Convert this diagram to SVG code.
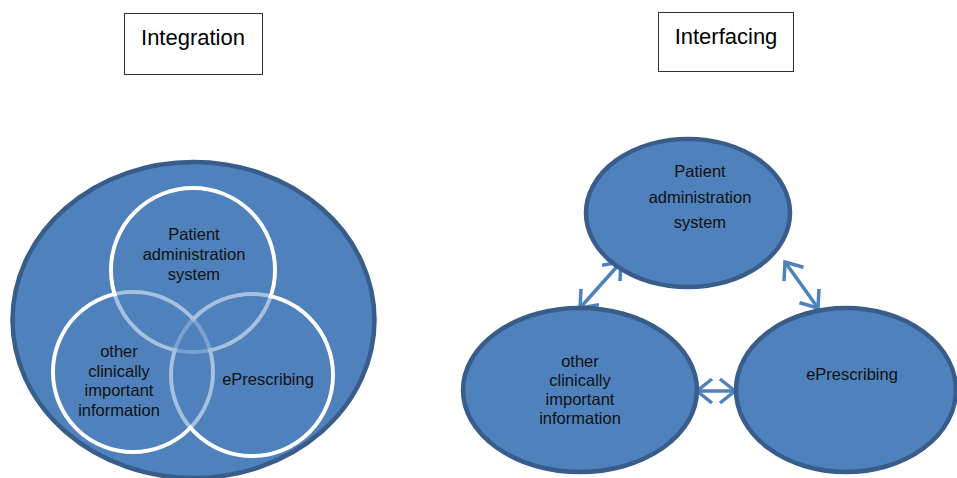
<svg xmlns="http://www.w3.org/2000/svg" width="957" height="478" viewBox="0 0 957 478">
<style>
.title{fill:#fff;stroke:#333;stroke-width:1}
.tt{font-family:"Liberation Sans",Arial,sans-serif;font-size:22px;fill:#000;text-anchor:middle}
.lbl{font-family:"Liberation Sans",Arial,sans-serif;font-size:16.5px;fill:#111;text-anchor:middle}
.blob{fill:#4f81bd;stroke:#385d8a;stroke-width:4.5}
.ring{fill:none;stroke:#fff;stroke-width:4}
.shade{fill:#4f81bd;fill-opacity:0.5;stroke:none}
.conn{stroke:#4f81bd;stroke-width:3.5;fill:none}
</style>
<defs>
<marker id="chev" viewBox="0 0 20 28" refX="17" refY="14" markerWidth="20" markerHeight="28" markerUnits="userSpaceOnUse" orient="auto-start-reverse">
<path d="M2,2 L17,14 L2,26" fill="none" stroke="#4f81bd" stroke-width="3.5"/>
</marker>
</defs>
<rect width="957" height="478" fill="#fff"/>

<g id="title-integration">
<rect class="title" x="124.5" y="13.5" width="138" height="61"/>
<text class="tt" x="193" y="45">Integration</text>
</g>
<g id="title-interfacing">
<rect class="title" x="658.5" y="12.5" width="135" height="59"/>
<text class="tt" x="726" y="44">Interfacing</text>
</g>

<g id="integration-container">
<ellipse class="blob" cx="193.5" cy="320" rx="181" ry="158"/>
</g>
<g id="venn-pas">
<circle class="ring" cx="193" cy="270" r="82"/>
</g>
<g id="venn-other">
<circle class="ring" cx="133" cy="372" r="80"/>
</g>
<g id="venn-eprescribing">
<circle class="ring" cx="252" cy="375" r="81"/>
</g>
<g id="venn-shading">
<circle class="shade" cx="193" cy="270" r="80"/>
<circle class="shade" cx="133" cy="372" r="78"/>
<circle class="shade" cx="252" cy="375" r="79"/>
</g>
<g id="venn-labels">
<text class="lbl" x="194" y="240">Patient</text>
<text class="lbl" x="194" y="260">administration</text>
<text class="lbl" x="194" y="280">system</text>
<text class="lbl" x="119" y="357">other</text>
<text class="lbl" x="119" y="376.5">clinically</text>
<text class="lbl" x="119" y="396">important</text>
<text class="lbl" x="119" y="415.5">information</text>
<text class="lbl" x="268" y="385">ePrescribing</text>
</g>

<g id="connectors">
<line class="conn" x1="621" y1="262" x2="580" y2="308" marker-start="url(#chev)" marker-end="url(#chev)"/>
<line class="conn" x1="785" y1="262" x2="818" y2="308" marker-start="url(#chev)" marker-end="url(#chev)"/>
<line class="conn" x1="697" y1="391" x2="735" y2="391" marker-start="url(#chev)" marker-end="url(#chev)"/>
</g>

<g id="node-pas">
<ellipse class="blob" cx="688" cy="213" rx="102" ry="74"/>
<text class="lbl" x="700" y="177">Patient</text>
<text class="lbl" x="700" y="203">administration</text>
<text class="lbl" x="700" y="228">system</text>
</g>
<g id="node-other">
<ellipse class="blob" cx="580" cy="390" rx="117" ry="82"/>
<text class="lbl" x="580" y="367">other</text>
<text class="lbl" x="580" y="386">clinically</text>
<text class="lbl" x="580" y="405">important</text>
<text class="lbl" x="580" y="424">information</text>
</g>
<g id="node-eprescribing">
<ellipse class="blob" cx="846" cy="390" rx="110" ry="82"/>
<text class="lbl" x="852" y="380">ePrescribing</text>
</g>
</svg>
